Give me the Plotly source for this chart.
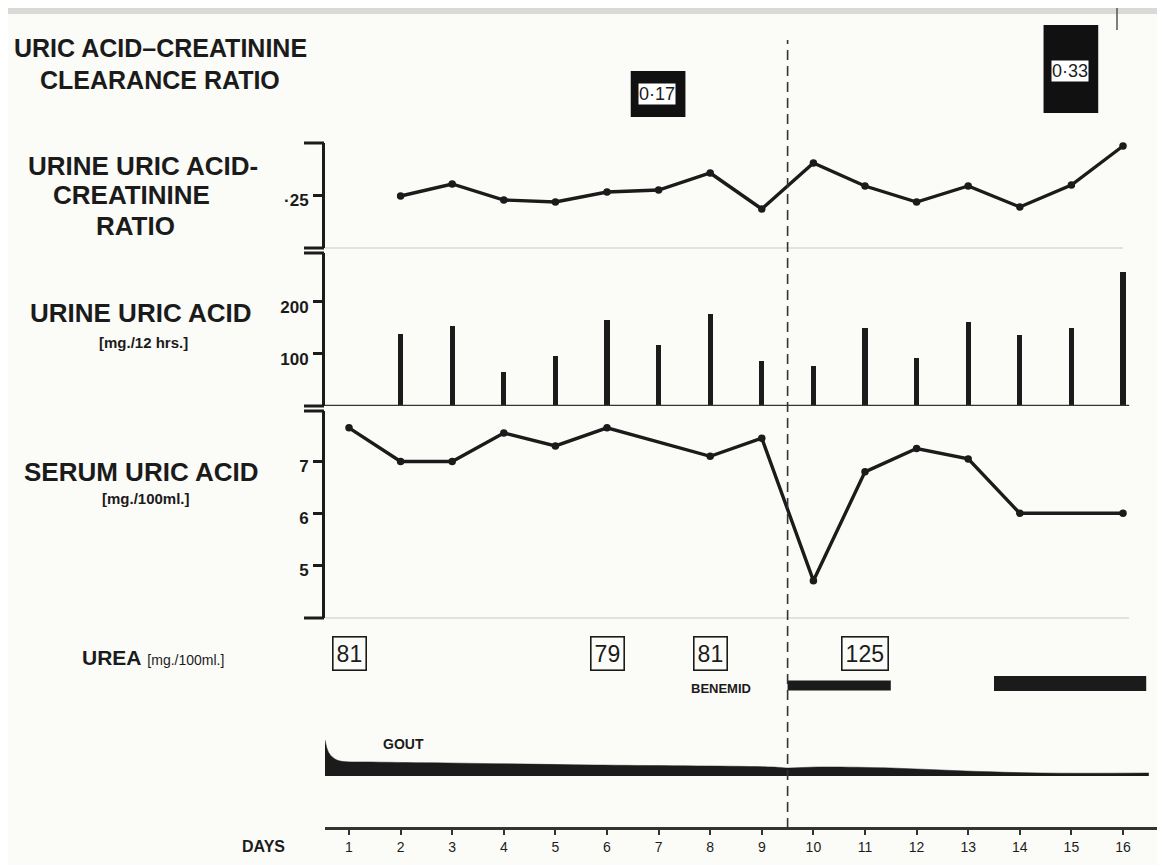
import plotly.graph_objects as go

# The page body has an 8px margin, so the figure is drawn 8px in from the window edge.
OFF = 8
WIN_W, WIN_H = 1165, 865
W, H = WIN_W - OFF, WIN_H - OFF

# ---------------- data ----------------
ratio_days = list(range(2, 17))
ratio_vals = [0.249, 0.261, 0.245, 0.243, 0.253, 0.255, 0.272, 0.236,
              0.282, 0.259, 0.243, 0.259, 0.238, 0.260, 0.299]

urine_days = list(range(2, 17))
urine_vals = [138, 154, 65, 97, 165, 117, 177, 87, 76, 149, 93, 162, 137, 150, 258]

serum_days = [1, 2, 3, 4, 5, 6, 8, 9, 10, 11, 12, 13, 14, 16]
serum_vals = [7.65, 7.0, 7.0, 7.55, 7.3, 7.65, 7.1, 7.45, 4.7, 6.8, 7.25, 7.05, 6.0, 6.0]

urea_days = [1, 6, 8, 11]
urea_vals = [81, 79, 81, 125]

clearance_days = [7, 15]
clearance_labels = ["0·17", "0·33"]

benemid_start = [9.5, 13.5]
benemid_end = [11.5, 16.45]

gout_days = [0.535, 0.6, 0.7, 0.83, 1.45, 2.9, 5.75, 9.2, 9.5, 10.1, 11.5, 12.95, 14.4, 16.5]
gout_level = [87, 75, 69, 66, 65, 64, 62, 60, 59, 60, 59, 56, 54, 54]
gout_base = 51

day_ticks = list(range(1, 17))
treatment_start = 9.5

# ---------------- style helpers ----------------
INK = "#1b1b1b"
FONT = "Liberation Sans, Arial, sans-serif"
DAY_PX = 51.6
DAY1_PX = 349


def py(p):
    return 1 - (p - OFF) / H


def pxx(p):
    return (p - OFF) / W


x_lo = 1 + (325 - DAY1_PX) / DAY_PX
x_hi = 1 + (WIN_W - DAY1_PX) / DAY_PX

fig = go.Figure()

# ratio panel
fig.add_trace(go.Scatter(x=ratio_days, y=ratio_vals, mode="lines+markers",
                         line=dict(color=INK, width=3.4),
                         marker=dict(color=INK, size=7.5),
                         yaxis="y", cliponaxis=False, showlegend=False))
# urine uric acid bars
fig.add_trace(go.Bar(x=urine_days, y=urine_vals, width=0.1,
                     marker=dict(color=INK, line=dict(width=0)),
                     yaxis="y2", showlegend=False))
# serum uric acid
fig.add_trace(go.Scatter(x=serum_days, y=serum_vals, mode="lines+markers",
                         line=dict(color=INK, width=3.4),
                         marker=dict(color=INK, size=7.5),
                         yaxis="y3", cliponaxis=False, showlegend=False))
# gout band
fig.add_trace(go.Scatter(x=gout_days, y=[gout_base] * len(gout_days), mode="lines",
                         line=dict(width=0, color=INK), yaxis="y4", showlegend=False))
fig.add_trace(go.Scatter(x=gout_days, y=gout_level, mode="lines", fill="tonexty",
                         fillcolor=INK, line=dict(width=0.5, color=INK, shape="spline"),
                         yaxis="y4", showlegend=False))
# benemid bars
ben_level = [141.5, 143.5]
ben_width = [10, 15]
for s, e, lv, wd in zip(benemid_start, benemid_end, ben_level, ben_width):
    fig.add_trace(go.Scatter(x=[s, e], y=[lv, lv], mode="lines",
                             line=dict(color=INK, width=wd), yaxis="y4",
                             cliponaxis=False, showlegend=False))

shapes = []
annotations = []

# background strip (scan border)
shapes.append(dict(type="rect", xref="paper", yref="paper", x0=0, x1=1,
                   y0=py(14), y1=1, fillcolor="#d9d9d5", line=dict(width=0), layer="below"))

# bracket caps for each panel axis
for ax in ["y", "y2", "y3"]:
    for yv in [0, 1]:
        shapes.append(dict(type="line", xref="paper", yref=f"{ax} domain",
                           x0=pxx(304), x1=pxx(324), y0=yv, y1=yv,
                           line=dict(color=INK, width=3)))

# panel separators / baselines
shapes.append(dict(type="line", xref="x", yref="y domain", x0=x_lo, x1=16.0, y0=0, y1=0,
                   line=dict(color="#c9c9c9", width=1)))
shapes.append(dict(type="line", xref="x", yref="y2", x0=x_lo, x1=16.12, y0=0, y1=0,
                   line=dict(color="#2e3a2e", width=2.5)))
shapes.append(dict(type="line", xref="x", yref="y3 domain", x0=x_lo, x1=16.12, y0=0, y1=0,
                   line=dict(color="#c9c9c9", width=1)))

# dashed treatment line
shapes.append(dict(type="line", xref="x", yref="paper", x0=treatment_start, x1=treatment_start,
                   y0=py(828), y1=py(40), line=dict(color="#333333", width=1.6, dash="10px,6px")))

# small pen mark at the top right of the scan
shapes.append(dict(type="line", xref="paper", yref="paper", x0=pxx(1117), x1=pxx(1117),
                   y0=py(30), y1=py(8), line=dict(color="#555555", width=1.5)))

# clearance ratio boxes
box_top = [71, 25]
box_bot = [117, 113]
box_txt = [94, 71]
for d, lab, t, b, c in zip(clearance_days, clearance_labels, box_top, box_bot, box_txt):
    shapes.append(dict(type="rect", xref="x", yref="paper", x0=d - 0.54, x1=d + 0.52,
                       y0=py(b), y1=py(t), fillcolor="#111111", line=dict(width=0)))
    annotations.append(dict(x=d - 0.03, y=py(c), xref="x", yref="paper", text=lab,
                            showarrow=False, bgcolor="#ffffff", borderpad=0,
                            xanchor="center", yanchor="middle",
                            font=dict(family=FONT, size=18, color=INK)))

# urea boxes
for d, v in zip(urea_days, urea_vals):
    annotations.append(dict(x=d, y=174, xref="x", yref="y4", text=str(v), showarrow=False,
                            xanchor="center", yanchor="middle",
                            bordercolor=INK, borderwidth=1.6, borderpad=3,
                            bgcolor="rgba(0,0,0,0)",
                            font=dict(family=FONT, size=23, color=INK)))


def label(text, xc, yc, size, anchor="center"):
    annotations.append(dict(x=pxx(xc), y=py(yc), xref="paper", yref="paper", text=text,
                            showarrow=False, xanchor=anchor, yanchor="middle",
                            font=dict(family=FONT, size=size, color=INK)))


label("<b>URIC ACID–CREATININE</b>", 160, 48, 25)
label("<b>CLEARANCE RATIO</b>", 160, 80, 25)
label("<b>URINE URIC ACID-</b>", 143, 166, 26)
label("<b>CREATININE</b>", 131, 195, 26)
label("<b>RATIO</b>", 135, 226, 26)
label("<b>URINE URIC ACID</b>", 140, 313, 26)
label("<b>[mg./12 hrs.]</b>", 143, 342, 15)
label("<b>SERUM URIC ACID</b>", 141, 472, 26)
label("<b>[mg./100ml.]</b>", 146, 498, 15)
label("<b>UREA</b> <span style='font-size:14px'>[mg./100ml.]</span>", 80, 657, 21, anchor="left")
label("<b>BENEMID</b>", 721, 688, 13)
label("<b>GOUT</b>", 403, 744, 14)
label("<b>DAYS</b>", 263, 846, 16)

yax_common = dict(showgrid=False, zeroline=False, showline=True, linecolor=INK,
                  linewidth=3, ticks="outside", ticklen=9, tickwidth=2.5, tickcolor=INK,
                  anchor="free", position=pxx(323), fixedrange=True,
                  tickfont=dict(family=FONT, size=17, color=INK),
                  ticklabelshift=5, ticklabelstandoff=1)

fig.update_layout(
    width=W, height=H,
    margin=dict(l=0, r=0, t=0, b=0),
    paper_bgcolor="#fbfbf8",
    plot_bgcolor="rgba(0,0,0,0)",
    showlegend=False,
    bargap=0,
    xaxis=dict(domain=[pxx(325), 1], range=[x_lo, x_hi], anchor="y4",
               showgrid=False, zeroline=False, showline=True, linecolor="#333333",
               linewidth=2.5, ticks="outside", ticklen=5, tickwidth=1.5, tickcolor="#333333",
               tickvals=day_ticks, ticktext=[str(d) for d in day_ticks],
               tickfont=dict(family=FONT, size=14, color=INK), fixedrange=True),
    yaxis=dict(domain=[py(248), py(143)], range=[0.197, 0.302],
               tickvals=[0.25], ticktext=["<b>·25</b>"], **yax_common),
    yaxis2=dict(domain=[py(406), py(253)], range=[0, 294],
                tickvals=[100, 200], ticktext=["<b>100</b>", "<b>200</b>"], **yax_common),
    yaxis3=dict(domain=[py(618), py(411)], range=[3.979, 7.975],
                tickvals=[5, 6, 7], ticktext=["<b>5</b>", "<b>6</b>", "<b>7</b>"], **yax_common),
    yaxis4=dict(domain=[py(827), py(630)], range=[0, 197], visible=False,
                anchor="x", fixedrange=True),
    shapes=shapes,
    annotations=annotations,
)

fig.write_html("out.html")
